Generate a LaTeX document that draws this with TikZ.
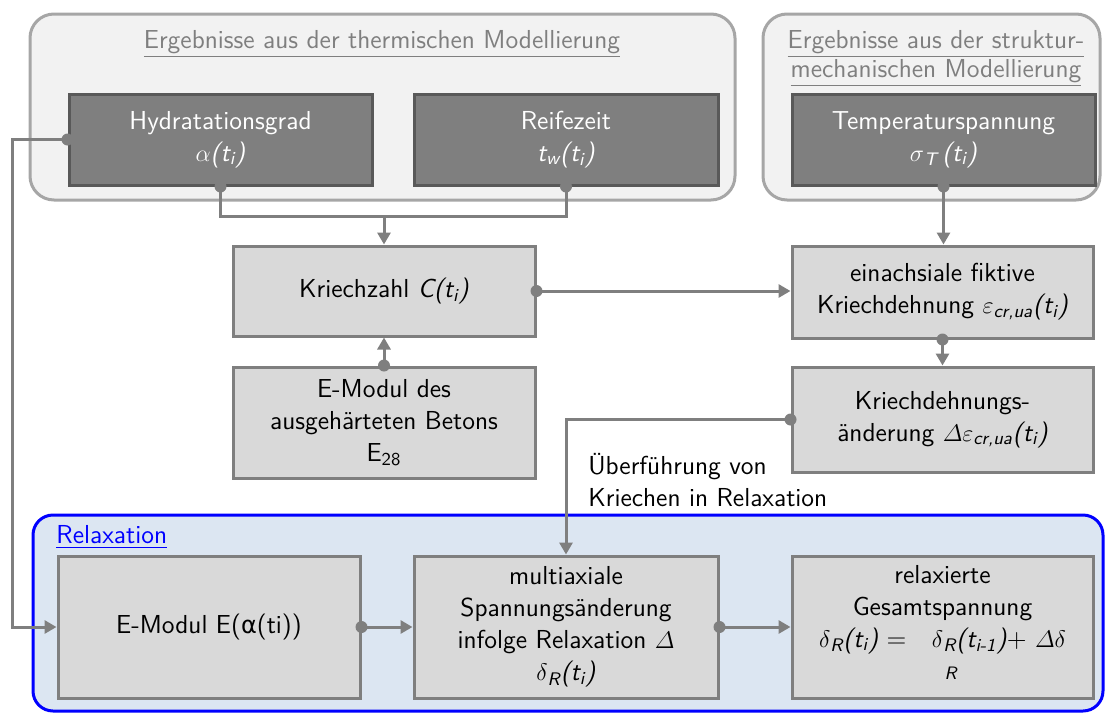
\documentclass[tikz,border=0pt]{standalone}
\usepackage{fontspec}
\usetikzlibrary{arrows.meta}
\newfontfamily\grk{DejaVu Sans}
\renewcommand{\familydefault}{\sfdefault}
\definecolor{cDark}{HTML}{7F7F7F}
\definecolor{cDarkB}{HTML}{595959}
\definecolor{cGray}{HTML}{7F7F7F}
\definecolor{cLight}{HTML}{D9D9D9}
\definecolor{cGrp}{HTML}{F2F2F2}
\definecolor{cGrpB}{HTML}{A6A6A6}
\definecolor{cBlue}{HTML}{0000FF}
\definecolor{cRel}{HTML}{DCE6F2}
\newcommand{\fs}{\fontsize{13}{16}\selectfont}
\newcommand{\sub}[1]{\textsubscript{\itshape #1}}
\newcommand{\Dlt}{$\mathnormal{\Delta}$}
\begin{document}
\begin{tikzpicture}[x=0.5pt,y=-0.5pt,
  darkbox/.style={draw=cDarkB, fill=cDark, line width=1.5pt, text=white, align=center, font=\fs, inner sep=1pt},
  lightbox/.style={draw=cGray, fill=cLight, line width=1.5pt, align=center, font=\fs, inner sep=1pt},
  grpbox/.style={draw=cGrpB, fill=cGrp, line width=1.5pt, rounded corners=12pt},
  conn/.style={draw=cGray, line width=1.5pt},
  arrow/.style={conn, -{Triangle[length=6pt,width=6.5pt]}},
  dotmark/.style={fill=cGray},
  grptitle/.style={text=cGray, font=\fs, align=center, inner sep=0pt}
]
\useasboundingbox (0,0) rectangle (1105,713);

% groups
\node[grpbox, minimum width=352.5pt, minimum height=93pt] (grpA) at (382.5,107) {};
\node[grpbox, minimum width=168.5pt, minimum height=93pt] (grpB) at (931.5,107) {};
\node[draw=cBlue, fill=cRel, line width=1.5pt, rounded corners=10pt, minimum width=535pt, minimum height=98pt] (grpR) at (568,613) {};

\node[grptitle] (tA) at (382,44) {\underline{Ergebnisse aus der thermischen Modellierung}};
\node[grptitle] (tB1) at (936,44) {\underline{Ergebnisse aus der struktur-}};
\node[grptitle] (tB2) at (936,73) {\underline{mechanischen Modellierung}};
\node[text=cBlue, font=\fs, anchor=west, inner sep=0pt] (tR) at (56,537) {\underline{Relaxation}};

% boxes
\node[darkbox, minimum width=151.5pt, minimum height=45.5pt] (hyd) at (220.5,139.5)
  {Hydratationsgrad\\ $\alpha$\textit{(t\sub{i})}};
\node[darkbox, minimum width=152pt, minimum height=45.5pt] (rei) at (566,139.5)
  {Reifezeit\\ \textit{t\sub{w}(t\sub{i})}};
\node[darkbox, minimum width=151.5pt, minimum height=45.5pt] (tmp) at (943.5,139.5)
  {Temperaturspannung\\ $\sigma$\sub{T}\,\textit{(t\sub{i})}};

\node[lightbox, minimum width=151pt, minimum height=45pt] (kz) at (384,291)
  {Kriechzahl \textit{C(t\sub{i})}};
\node[lightbox, minimum width=151pt, minimum height=55.5pt] (emd) at (384,422.5)
  {E-Modul des\\ ausgeh\"arteten Betons\\ E\textsubscript{28}};
\node[lightbox, minimum width=150.5pt, minimum height=46pt] (ein) at (942.5,292)
  {einachsiale fiktive\\ Kriechdehnung $\varepsilon$\sub{cr,ua}\textit{(t\sub{i})}};
\node[lightbox, minimum width=150.5pt, minimum height=52.5pt] (kd) at (942.5,419.5)
  {Kriechdehnungs-\\ \"anderung \Dlt$\varepsilon$\sub{cr,ua}\textit{(t\sub{i})}};

\node[font=\fs, align=left, anchor=north west, inner sep=0pt] (ueb) at (588,453)
  {\"Uberf\"uhrung von\\ Kriechen in Relaxation};

\node[lightbox, minimum width=151pt, minimum height=71pt] (em) at (209,627)
  {E-Modul E({\grk\fontsize{12}{16}\selectfont α}(ti))};
\node[lightbox, minimum width=152pt, minimum height=71pt] (mult) at (566,627)
  {multiaxiale\\ Spannungs\"anderung\\ infolge Relaxation \Dlt\\ $\delta$\sub{R}\textit{(t\sub{i})}};
\node[lightbox, minimum width=150.5pt, minimum height=71pt] (rel) at (942.5,627)
  {relaxierte\\ Gesamtspannung\\ $\delta$\sub{R}\textit{(t\sub{i})} =\ \ \ $\delta$\sub{R}\textit{(t\sub{i-1})}+ \Dlt$\delta$\\ \hspace*{8pt}{\small\itshape R}\strut};

% connectors
\coordinate (j) at (0,216);
\coordinate (lx) at (12,0);
\draw[conn] (hyd.south) -- (hyd.south |- j) -- (rei.south |- j) -- (rei.south);
\draw[arrow] (kz.north |- j) -- (kz.north);
\draw[arrow] (tmp.south) -- (tmp.south |- ein.north);
\draw[arrow] (emd.north) -- (kz.south);
\draw[arrow] (kz.east) -- (kz.east -| ein.west);
\draw[arrow] (ein.south) -- (kd.north);
\draw[arrow] (kd.west) -| (mult.north);
\draw[arrow] (hyd.west) -- (hyd.west -| lx) |- (em.west);
\draw[arrow] (em.east) -- (mult.west);
\draw[arrow] (mult.east) -- (rel.west);

% dots
\foreach \p in {hyd.south, rei.south, tmp.south, emd.north, kz.east, ein.south, kd.west, hyd.west, em.east, mult.east}
  \fill[dotmark] (\p) circle (3pt);
\end{tikzpicture}
\end{document}
